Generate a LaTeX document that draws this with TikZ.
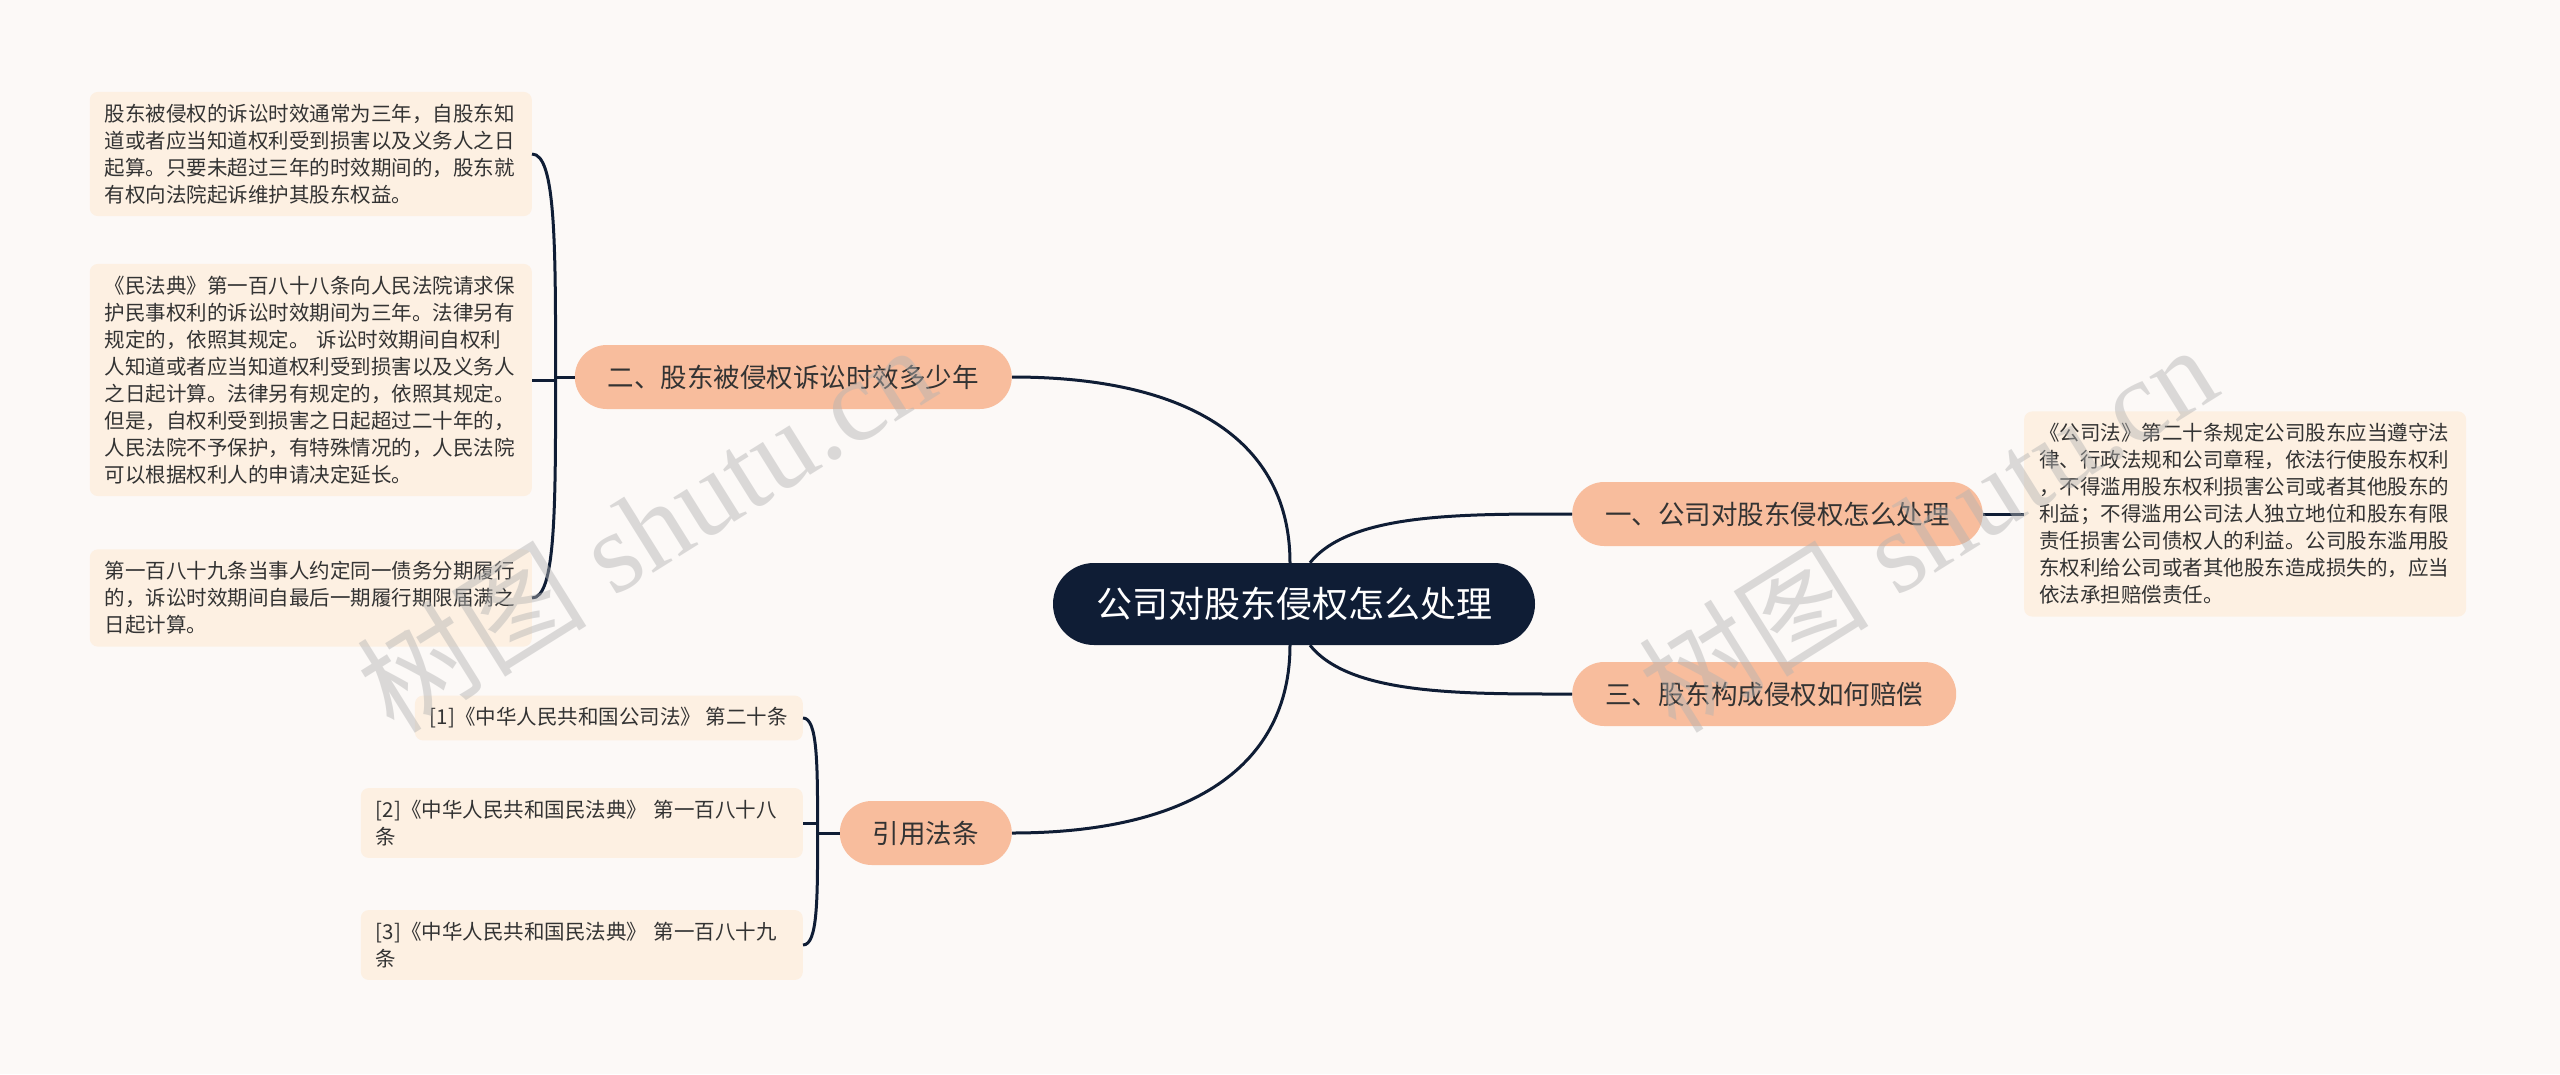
\documentclass[tikz,border=0pt]{standalone}
\usepackage{fontspec}
\usetikzlibrary{positioning,calc}
\newfontfamily\cjk{Noto Sans CJK SC}
\newfontfamily\wmfont{Liberation Serif}
\definecolor{paper}{HTML}{FCF9F7}
\definecolor{navy}{HTML}{0F1D35}
\definecolor{peach}{HTML}{F8BD9D}
\definecolor{cream}{HTML}{FDF0E2}
\definecolor{ink}{HTML}{333333}

\begin{document}
\begin{tikzpicture}[x=1pt,y=-1pt,
  root/.style={rectangle,rounded corners=41pt,fill=navy,text=white,
    minimum height=82pt,inner xsep=43pt,font=\cjk\fontsize{36}{40}\selectfont},
  topic/.style={rectangle,rounded corners=32pt,fill=peach,text=ink,
    minimum height=64pt,inner xsep=33pt,font=\cjk\fontsize{26.5}{30}\selectfont},
  leaf/.style={rectangle,rounded corners=8pt,fill=cream,text=ink,align=left,
    inner xsep=15pt,inner ysep=12pt,font=\cjk\fontsize{20.5}{27}\selectfont},
  link/.style={draw=navy,line width=3pt},
  wmark/.style={text=gray!60,opacity=0.45,rotate=32,
    font=\wmfont\fontsize{115}{120}\selectfont}]
  \useasboundingbox (0,0) rectangle (2560,1074);
  \fill[paper] (0,0) rectangle (2560,1074);

  % centre and main topics
  \node[root] (root) at (1294,604) {公司对股东侵权怎么处理};
  \node[topic,anchor=west] (t1) at (1572,514) {一、公司对股东侵权怎么处理};
  \node[topic,anchor=west] (t3) at (1572,694) {三、股东构成侵权如何赔偿};
  \node[topic,anchor=east] (t2) at (1012,377) {二、股东被侵权诉讼时效多少年};
  \node[topic,anchor=east] (t4) at (1012,833) {引用法条};

  % details
  \node[leaf,text width=412pt,right=41pt of t1] (r1) {《公司法》第二十条规定公司股东应当遵守法\\律、行政法规和公司章程，依法行使股东权利\\，不得滥用股东权利损害公司或者其他股东的\\利益；不得滥用公司法人独立地位和股东有限\\责任损害公司债权人的利益。公司股东滥用股\\东权利给公司或者其他股东造成损失的，应当\\依法承担赔偿责任。};
  \node[leaf,text width=412pt,anchor=east] (l1) at (532,154) {股东被侵权的诉讼时效通常为三年，自股东知\\道或者应当知道权利受到损害以及义务人之日\\起算。只要未超过三年的时效期间的，股东就\\有权向法院起诉维护其股东权益。};
  \node[leaf,text width=412pt,anchor=east] (l2) at (532,380) {《民法典》第一百八十八条向人民法院请求保\\护民事权利的诉讼时效期间为三年。法律另有\\规定的，依照其规定。 诉讼时效期间自权利\\人知道或者应当知道权利受到损害以及义务人\\之日起计算。法律另有规定的，依照其规定。\\但是，自权利受到损害之日起超过二十年的，\\人民法院不予保护，有特殊情况的，人民法院\\可以根据权利人的申请决定延长。};
  \node[leaf,text width=412pt,anchor=east] (l3) at (532,598) {第一百八十九条当事人约定同一债务分期履行\\的，诉讼时效期间自最后一期履行期限届满之\\日起计算。};
  \node[leaf,anchor=east] (c1) at (803,718) {[1]《中华人民共和国公司法》 第二十条};
  \node[leaf,text width=412pt,anchor=east] (c2) at (803,823) {[2]《中华人民共和国民法典》 第一百八十八\\条};
  \node[leaf,text width=412pt,anchor=east] (c3) at (803,945) {[3]《中华人民共和国民法典》 第一百八十九\\条};

  % links from the centre
  \draw[link] ([xshift=16pt]root.north) .. controls +(40,-50) and +(-110,0) .. (t1.west);
  \draw[link] ([xshift=16pt]root.south) .. controls +(40,50) and +(-110,0) .. (t3.west);
  \draw[link] ([xshift=-4pt]root.north) .. controls +(0,-120) and +(180,0) .. (t2.east);
  \draw[link] ([xshift=-4pt]root.south) .. controls +(0,120) and +(180,0) .. (t4.east);
  \draw[link] (t1.east) -- (r1.west);

  % brackets
  \draw[link] (t2.west) -- ++(-19,0) coordinate (k2);
  \draw[link] (k2) .. controls ($(k2)!0.6!(k2 |- l1.east)$) and (k2 |- l1.east) .. (l1.east);
  \draw[link] (k2) -- (k2 |- l2.east) -- (l2.east);
  \draw[link] (k2) .. controls ($(k2)!0.6!(k2 |- l3.east)$) and (k2 |- l3.east) .. (l3.east);
  \draw[link] (t4.west) -- ++(-22,0) coordinate (k4);
  \draw[link] (k4) .. controls ($(k4)!0.6!(k4 |- c1.east)$) and (k4 |- c1.east) .. (c1.east);
  \draw[link] (k4) -- (k4 |- c2.east) -- (c2.east);
  \draw[link] (k4) .. controls ($(k4)!0.6!(k4 |- c3.east)$) and (k4 |- c3.east) .. (c3.east);

  % watermark
  \node[wmark] (wm1) at (645,527) {{\cjk 树图} shutu.cn};
  \node[wmark] (wm2) at (1927,527) {{\cjk 树图} shutu.cn};
\end{tikzpicture}
\end{document}
